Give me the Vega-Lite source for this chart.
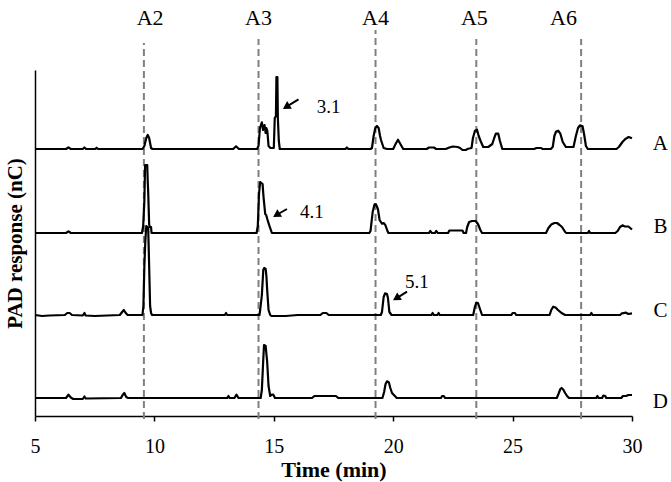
{
  "$schema": "https://vega.github.io/schema/vega-lite/v6.json",
  "width": 597,
  "height": 346,
  "autosize": {"type": "none"},
  "padding": {"left": 35, "top": 70, "right": 39, "bottom": 66},
  "background": "white",
  "config": {"view": {"stroke": null}, "font": "Liberation Serif"},
  "resolve": {"axis": {"x": "independent", "y": "independent"}},
  "datasets": {
    "traces": [
      {"s":"A","t":5,"r":267},{"s":"A","t":6.3,"r":267},{"s":"A","t":6.4,"r":268.7},{"s":"A","t":6.5,"r":267},{"s":"A","t":7.0,"r":267},{"s":"A","t":7.07,"r":268.5},{"s":"A","t":7.14,"r":267},{"s":"A","t":7.52,"r":267},{"s":"A","t":7.58,"r":268.3},{"s":"A","t":7.64,"r":267},{"s":"A","t":9.5,"r":267},{"s":"A","t":9.58,"r":270},{"s":"A","t":9.66,"r":278},{"s":"A","t":9.72,"r":281},{"s":"A","t":9.78,"r":278},{"s":"A","t":9.86,"r":268},{"s":"A","t":9.92,"r":267},{"s":"A","t":13.3,"r":267},{"s":"A","t":13.42,"r":269.7},{"s":"A","t":13.54,"r":267},{"s":"A","t":14.3,"r":267},{"s":"A","t":14.36,"r":270},{"s":"A","t":14.42,"r":288},{"s":"A","t":14.5,"r":293.7},{"s":"A","t":14.55,"r":286},{"s":"A","t":14.61,"r":291},{"s":"A","t":14.66,"r":283},{"s":"A","t":14.69,"r":288},{"s":"A","t":14.73,"r":285},{"s":"A","t":14.78,"r":270},{"s":"A","t":14.86,"r":268},{"s":"A","t":15.0,"r":268},{"s":"A","t":15.04,"r":298},{"s":"A","t":15.09,"r":300},{"s":"A","t":15.11,"r":339},{"s":"A","t":15.15,"r":339},{"s":"A","t":15.17,"r":298},{"s":"A","t":15.21,"r":275},{"s":"A","t":15.25,"r":267},{"s":"A","t":18.0,"r":267},{"s":"A","t":18.06,"r":268.5},{"s":"A","t":18.12,"r":267},{"s":"A","t":19.05,"r":267},{"s":"A","t":19.11,"r":268},{"s":"A","t":19.18,"r":280},{"s":"A","t":19.25,"r":288},{"s":"A","t":19.32,"r":290},{"s":"A","t":19.39,"r":288},{"s":"A","t":19.45,"r":280},{"s":"A","t":19.49,"r":276},{"s":"A","t":19.6,"r":268},{"s":"A","t":19.74,"r":267},{"s":"A","t":20.0,"r":267},{"s":"A","t":20.1,"r":272},{"s":"A","t":20.2,"r":276.3},{"s":"A","t":20.3,"r":272},{"s":"A","t":20.42,"r":267},{"s":"A","t":21.4,"r":267},{"s":"A","t":21.5,"r":268.5},{"s":"A","t":21.7,"r":268.5},{"s":"A","t":21.8,"r":267},{"s":"A","t":22.2,"r":267},{"s":"A","t":22.35,"r":268.5},{"s":"A","t":22.5,"r":269.5},{"s":"A","t":22.7,"r":269},{"s":"A","t":22.8,"r":268},{"s":"A","t":22.9,"r":266},{"s":"A","t":23.05,"r":266},{"s":"A","t":23.1,"r":267},{"s":"A","t":23.28,"r":268},{"s":"A","t":23.34,"r":278},{"s":"A","t":23.42,"r":285},{"s":"A","t":23.51,"r":286.3},{"s":"A","t":23.58,"r":280},{"s":"A","t":23.66,"r":275},{"s":"A","t":23.77,"r":269},{"s":"A","t":23.98,"r":269},{"s":"A","t":24.15,"r":272},{"s":"A","t":24.23,"r":278},{"s":"A","t":24.3,"r":282.3},{"s":"A","t":24.4,"r":282.3},{"s":"A","t":24.47,"r":275},{"s":"A","t":24.57,"r":267},{"s":"A","t":25.9,"r":267},{"s":"A","t":26.0,"r":268},{"s":"A","t":26.2,"r":268},{"s":"A","t":26.25,"r":267},{"s":"A","t":26.6,"r":267},{"s":"A","t":26.68,"r":269},{"s":"A","t":26.75,"r":280},{"s":"A","t":26.82,"r":284.5},{"s":"A","t":26.91,"r":285.3},{"s":"A","t":27.0,"r":282.3},{"s":"A","t":27.1,"r":274},{"s":"A","t":27.23,"r":269},{"s":"A","t":27.55,"r":269},{"s":"A","t":27.65,"r":280},{"s":"A","t":27.74,"r":288},{"s":"A","t":27.82,"r":290.7},{"s":"A","t":27.93,"r":289.7},{"s":"A","t":28.0,"r":281},{"s":"A","t":28.07,"r":270},{"s":"A","t":28.15,"r":267},{"s":"A","t":29.35,"r":267},{"s":"A","t":29.45,"r":269},{"s":"A","t":29.6,"r":274},{"s":"A","t":29.72,"r":277},{"s":"A","t":29.86,"r":279},{"s":"A","t":30.0,"r":277.7},
      {"s":"B","t":5,"r":183},{"s":"B","t":6.3,"r":183},{"s":"B","t":6.4,"r":184.7},{"s":"B","t":6.5,"r":183},{"s":"B","t":9.48,"r":183},{"s":"B","t":9.53,"r":190},{"s":"B","t":9.58,"r":215},{"s":"B","t":9.61,"r":251},{"s":"B","t":9.7,"r":251},{"s":"B","t":9.72,"r":235},{"s":"B","t":9.74,"r":224},{"s":"B","t":9.78,"r":192},{"s":"B","t":9.8,"r":189},{"s":"B","t":9.86,"r":189},{"s":"B","t":9.88,"r":183},{"s":"B","t":14.28,"r":183},{"s":"B","t":14.33,"r":190},{"s":"B","t":14.38,"r":222},{"s":"B","t":14.43,"r":234},{"s":"B","t":14.53,"r":232},{"s":"B","t":14.57,"r":219},{"s":"B","t":14.64,"r":202},{"s":"B","t":14.68,"r":201},{"s":"B","t":14.74,"r":196},{"s":"B","t":14.81,"r":190.7},{"s":"B","t":14.92,"r":183},{"s":"B","t":19.0,"r":183},{"s":"B","t":19.05,"r":185},{"s":"B","t":19.14,"r":204},{"s":"B","t":19.22,"r":211.7},{"s":"B","t":19.28,"r":211.7},{"s":"B","t":19.36,"r":207},{"s":"B","t":19.43,"r":196},{"s":"B","t":19.53,"r":192.3},{"s":"B","t":19.6,"r":193},{"s":"B","t":19.67,"r":191},{"s":"B","t":19.76,"r":185},{"s":"B","t":19.8,"r":183},{"s":"B","t":21.5,"r":183},{"s":"B","t":21.55,"r":185},{"s":"B","t":21.62,"r":183},{"s":"B","t":21.75,"r":183},{"s":"B","t":21.8,"r":185},{"s":"B","t":21.87,"r":183},{"s":"B","t":22.3,"r":183},{"s":"B","t":22.35,"r":185.5},{"s":"B","t":22.6,"r":185.5},{"s":"B","t":22.9,"r":185.5},{"s":"B","t":22.95,"r":183},{"s":"B","t":23.05,"r":183},{"s":"B","t":23.1,"r":189},{"s":"B","t":23.18,"r":194},{"s":"B","t":23.3,"r":195},{"s":"B","t":23.45,"r":195},{"s":"B","t":23.55,"r":192},{"s":"B","t":23.65,"r":186},{"s":"B","t":23.72,"r":183},{"s":"B","t":26.4,"r":183},{"s":"B","t":26.5,"r":188},{"s":"B","t":26.62,"r":191.5},{"s":"B","t":26.75,"r":193},{"s":"B","t":26.86,"r":193},{"s":"B","t":26.97,"r":191},{"s":"B","t":27.07,"r":189},{"s":"B","t":27.2,"r":184},{"s":"B","t":27.25,"r":183},{"s":"B","t":28.15,"r":183},{"s":"B","t":28.2,"r":185},{"s":"B","t":28.25,"r":183},{"s":"B","t":29.3,"r":183},{"s":"B","t":29.4,"r":185},{"s":"B","t":29.5,"r":189},{"s":"B","t":29.6,"r":190.7},{"s":"B","t":29.7,"r":189.5},{"s":"B","t":29.85,"r":189.5},{"s":"B","t":30.0,"r":186.5},
      {"s":"C","t":5,"r":101},{"s":"C","t":5.3,"r":100},{"s":"C","t":5.6,"r":100.5},{"s":"C","t":6.25,"r":101},{"s":"C","t":6.35,"r":103},{"s":"C","t":6.45,"r":103},{"s":"C","t":6.55,"r":101},{"s":"C","t":7.0,"r":100.5},{"s":"C","t":7.07,"r":103},{"s":"C","t":7.12,"r":100.5},{"s":"C","t":7.5,"r":100},{"s":"C","t":8.55,"r":101},{"s":"C","t":8.65,"r":104},{"s":"C","t":8.72,"r":106},{"s":"C","t":8.8,"r":103},{"s":"C","t":8.88,"r":101},{"s":"C","t":9.5,"r":101},{"s":"C","t":9.54,"r":110},{"s":"C","t":9.58,"r":150},{"s":"C","t":9.62,"r":175},{"s":"C","t":9.66,"r":190},{"s":"C","t":9.74,"r":188},{"s":"C","t":9.78,"r":150},{"s":"C","t":9.82,"r":110},{"s":"C","t":9.86,"r":103},{"s":"C","t":9.9,"r":101},{"s":"C","t":12.95,"r":101},{"s":"C","t":13.0,"r":103},{"s":"C","t":13.05,"r":101},{"s":"C","t":14.4,"r":101},{"s":"C","t":14.43,"r":106},{"s":"C","t":14.5,"r":121},{"s":"C","t":14.56,"r":146},{"s":"C","t":14.6,"r":148},{"s":"C","t":14.66,"r":147},{"s":"C","t":14.69,"r":140},{"s":"C","t":14.72,"r":127},{"s":"C","t":14.78,"r":106},{"s":"C","t":14.85,"r":101},{"s":"C","t":14.9,"r":100},{"s":"C","t":15.5,"r":100},{"s":"C","t":16.0,"r":101},{"s":"C","t":16.95,"r":101},{"s":"C","t":17.05,"r":103},{"s":"C","t":17.2,"r":103},{"s":"C","t":17.3,"r":101},{"s":"C","t":19.48,"r":101},{"s":"C","t":19.53,"r":104},{"s":"C","t":19.6,"r":119},{"s":"C","t":19.66,"r":122.7},{"s":"C","t":19.74,"r":122},{"s":"C","t":19.78,"r":118},{"s":"C","t":19.84,"r":104},{"s":"C","t":19.93,"r":101},{"s":"C","t":21.6,"r":101},{"s":"C","t":21.65,"r":103},{"s":"C","t":21.7,"r":101},{"s":"C","t":21.85,"r":101},{"s":"C","t":21.9,"r":103},{"s":"C","t":21.95,"r":101},{"s":"C","t":23.35,"r":101},{"s":"C","t":23.42,"r":109},{"s":"C","t":23.48,"r":113.3},{"s":"C","t":23.55,"r":113},{"s":"C","t":23.62,"r":108},{"s":"C","t":23.72,"r":101},{"s":"C","t":24.95,"r":101},{"s":"C","t":25.0,"r":103},{"s":"C","t":25.1,"r":103},{"s":"C","t":25.15,"r":101},{"s":"C","t":26.55,"r":101},{"s":"C","t":26.62,"r":106},{"s":"C","t":26.7,"r":109.3},{"s":"C","t":26.8,"r":108.5},{"s":"C","t":26.9,"r":106},{"s":"C","t":27.07,"r":102.7},{"s":"C","t":27.2,"r":101},{"s":"C","t":28.25,"r":101},{"s":"C","t":28.3,"r":103},{"s":"C","t":28.35,"r":101},{"s":"C","t":29.5,"r":101},{"s":"C","t":29.58,"r":102.7},{"s":"C","t":29.75,"r":103.3},{"s":"C","t":29.85,"r":102},{"s":"C","t":30.0,"r":102.7},
      {"s":"D","t":5,"r":18},{"s":"D","t":6.3,"r":18},{"s":"D","t":6.4,"r":21.3},{"s":"D","t":6.5,"r":18.5},{"s":"D","t":6.6,"r":17},{"s":"D","t":7.0,"r":17},{"s":"D","t":7.07,"r":19.5},{"s":"D","t":7.12,"r":17.5},{"s":"D","t":8.6,"r":18},{"s":"D","t":8.67,"r":21},{"s":"D","t":8.74,"r":23},{"s":"D","t":8.82,"r":19},{"s":"D","t":8.9,"r":18},{"s":"D","t":13.05,"r":18},{"s":"D","t":13.1,"r":20},{"s":"D","t":13.15,"r":18},{"s":"D","t":13.35,"r":18},{"s":"D","t":13.44,"r":21.3},{"s":"D","t":13.52,"r":18},{"s":"D","t":14.45,"r":18},{"s":"D","t":14.5,"r":26},{"s":"D","t":14.55,"r":52},{"s":"D","t":14.59,"r":71},{"s":"D","t":14.66,"r":70},{"s":"D","t":14.69,"r":62},{"s":"D","t":14.72,"r":55},{"s":"D","t":14.78,"r":30},{"s":"D","t":14.85,"r":20},{"s":"D","t":14.92,"r":21.3},{"s":"D","t":14.98,"r":21.3},{"s":"D","t":15.05,"r":18},{"s":"D","t":16.6,"r":18},{"s":"D","t":16.7,"r":20},{"s":"D","t":17.6,"r":20},{"s":"D","t":17.7,"r":18},{"s":"D","t":19.55,"r":18},{"s":"D","t":19.62,"r":24},{"s":"D","t":19.68,"r":32},{"s":"D","t":19.74,"r":34.7},{"s":"D","t":19.82,"r":33.5},{"s":"D","t":19.88,"r":28},{"s":"D","t":19.95,"r":23},{"s":"D","t":20.07,"r":20},{"s":"D","t":20.15,"r":18},{"s":"D","t":22.0,"r":18},{"s":"D","t":22.05,"r":20},{"s":"D","t":22.12,"r":20},{"s":"D","t":22.17,"r":18},{"s":"D","t":26.85,"r":18},{"s":"D","t":26.92,"r":22},{"s":"D","t":27.0,"r":27},{"s":"D","t":27.05,"r":28},{"s":"D","t":27.12,"r":26.5},{"s":"D","t":27.2,"r":23},{"s":"D","t":27.28,"r":20},{"s":"D","t":27.36,"r":18},{"s":"D","t":28.5,"r":18},{"s":"D","t":28.55,"r":20},{"s":"D","t":28.6,"r":18},{"s":"D","t":28.75,"r":18},{"s":"D","t":28.8,"r":20.5},{"s":"D","t":28.88,"r":20},{"s":"D","t":28.92,"r":18},{"s":"D","t":29.55,"r":18},{"s":"D","t":29.62,"r":20},{"s":"D","t":29.75,"r":20},{"s":"D","t":29.85,"r":21},{"s":"D","t":30.0,"r":21}
    ],
    "markers": [
      {"name":"A2","t":9.56,"top":373,"bottom":-3,"lt":9.82,"lr":391},
      {"name":"A3","t":14.36,"top":377,"bottom":-3,"lt":14.36,"lr":391},
      {"name":"A4","t":19.26,"top":386,"bottom":-3,"lt":19.26,"lr":391},
      {"name":"A5","t":23.48,"top":377,"bottom":-3,"lt":23.4,"lr":391},
      {"name":"A6","t":27.87,"top":377,"bottom":-3,"lt":27.13,"lr":391}
    ],
    "arrows": [
      {"label":"3.1","t1":16.035,"r1":316.7,"t2":15.52,"r2":309.1,"lt":17.3,"lr":309},
      {"label":"4.1","t1":15.55,"r1":207,"t2":15.11,"r2":201,"lt":16.59,"lr":204.5},
      {"label":"5.1","t1":20.58,"r1":124.3,"t2":20.13,"r2":117.7,"lt":20.99,"lr":134.5}
    ],
    "samples": [
      {"s":"A","t":31.19,"r":266},
      {"s":"B","t":31.19,"r":183},
      {"s":"C","t":31.19,"r":99},
      {"s":"D","t":31.19,"r":8}
    ]
  },
  "layer": [
    {
      "data": {"name": "markers"},
      "mark": {"type": "rule", "color": "#808080", "strokeWidth": 2, "strokeDash": [7, 4]},
      "encoding": {
        "x": {"field": "t", "type": "quantitative", "axis": null, "scale": {"domain": [5, 30], "nice": false, "zero": false}},
        "y": {"field": "bottom", "type": "quantitative", "axis": null, "scale": {"domain": [0, 346], "nice": false, "zero": false}},
        "y2": {"field": "top"}
      }
    },
    {
      "data": {"name": "traces"},
      "mark": {"type": "line", "color": "black", "strokeWidth": 2.2, "strokeJoin": "round"},
      "encoding": {
        "x": {
          "field": "t",
          "type": "quantitative",
          "scale": {"domain": [5, 30], "nice": false, "zero": false},
          "axis": {
            "title": "Time (min)",
            "values": [5, 10, 15, 20, 25, 30],
            "format": "d",
            "grid": false,
            "labelFont": "Liberation Serif",
            "labelFontSize": 20,
            "labelColor": "black",
            "labelPadding": 15,
            "labelFlush": false,
            "tickSize": 5,
            "tickColor": "black",
            "tickWidth": 1.5,
            "domainColor": "black",
            "domainWidth": 1.5,
            "titleFont": "Liberation Serif",
            "titleFontSize": 22,
            "titleFontWeight": "bold",
            "titleColor": "black",
            "titleBaseline": "alphabetic",
            "titleY": 60
          }
        },
        "y": {
          "field": "r",
          "type": "quantitative",
          "scale": {"domain": [0, 346], "nice": false, "zero": false},
          "axis": {
            "title": "PAD response (nC)",
            "ticks": false,
            "labels": false,
            "grid": false,
            "domainColor": "black",
            "domainWidth": 1.5,
            "titleFont": "Liberation Serif",
            "titleFontSize": 21,
            "titleFontWeight": "bold",
            "titleColor": "black",
            "titleBaseline": "alphabetic",
            "titleX": -14
          }
        },
        "detail": {"field": "s", "type": "nominal"}
      }
    },
    {
      "data": {"name": "markers"},
      "mark": {"type": "text", "fontSize": 22, "font": "Liberation Serif", "color": "black", "baseline": "alphabetic", "align": "center"},
      "encoding": {
        "x": {"field": "lt", "type": "quantitative", "axis": null},
        "y": {"field": "lr", "type": "quantitative", "axis": null},
        "text": {"field": "name", "type": "nominal"}
      }
    },
    {
      "data": {"name": "arrows"},
      "mark": {"type": "rule", "color": "black", "strokeWidth": 2},
      "encoding": {
        "x": {"field": "t1", "type": "quantitative", "axis": null},
        "y": {"field": "r1", "type": "quantitative", "axis": null},
        "x2": {"field": "t2"},
        "y2": {"field": "r2"}
      }
    },
    {
      "data": {"name": "arrows"},
      "mark": {"type": "point", "shape": "triangle-up", "filled": true, "color": "black", "size": 80, "angle": 238, "opacity": 1},
      "encoding": {
        "x": {"field": "t2", "type": "quantitative", "axis": null},
        "y": {"field": "r2", "type": "quantitative", "axis": null}
      }
    },
    {
      "data": {"name": "arrows"},
      "mark": {"type": "text", "fontSize": 19, "font": "Liberation Serif", "color": "black", "baseline": "middle", "align": "center"},
      "encoding": {
        "x": {"field": "lt", "type": "quantitative", "axis": null},
        "y": {"field": "lr", "type": "quantitative", "axis": null},
        "text": {"field": "label", "type": "nominal"}
      }
    },
    {
      "data": {"name": "samples"},
      "mark": {"type": "text", "fontSize": 21, "font": "Liberation Serif", "color": "black", "baseline": "alphabetic", "align": "center"},
      "encoding": {
        "x": {"field": "t", "type": "quantitative", "axis": null},
        "y": {"field": "r", "type": "quantitative", "axis": null},
        "text": {"field": "s", "type": "nominal"}
      }
    }
  ]
}
